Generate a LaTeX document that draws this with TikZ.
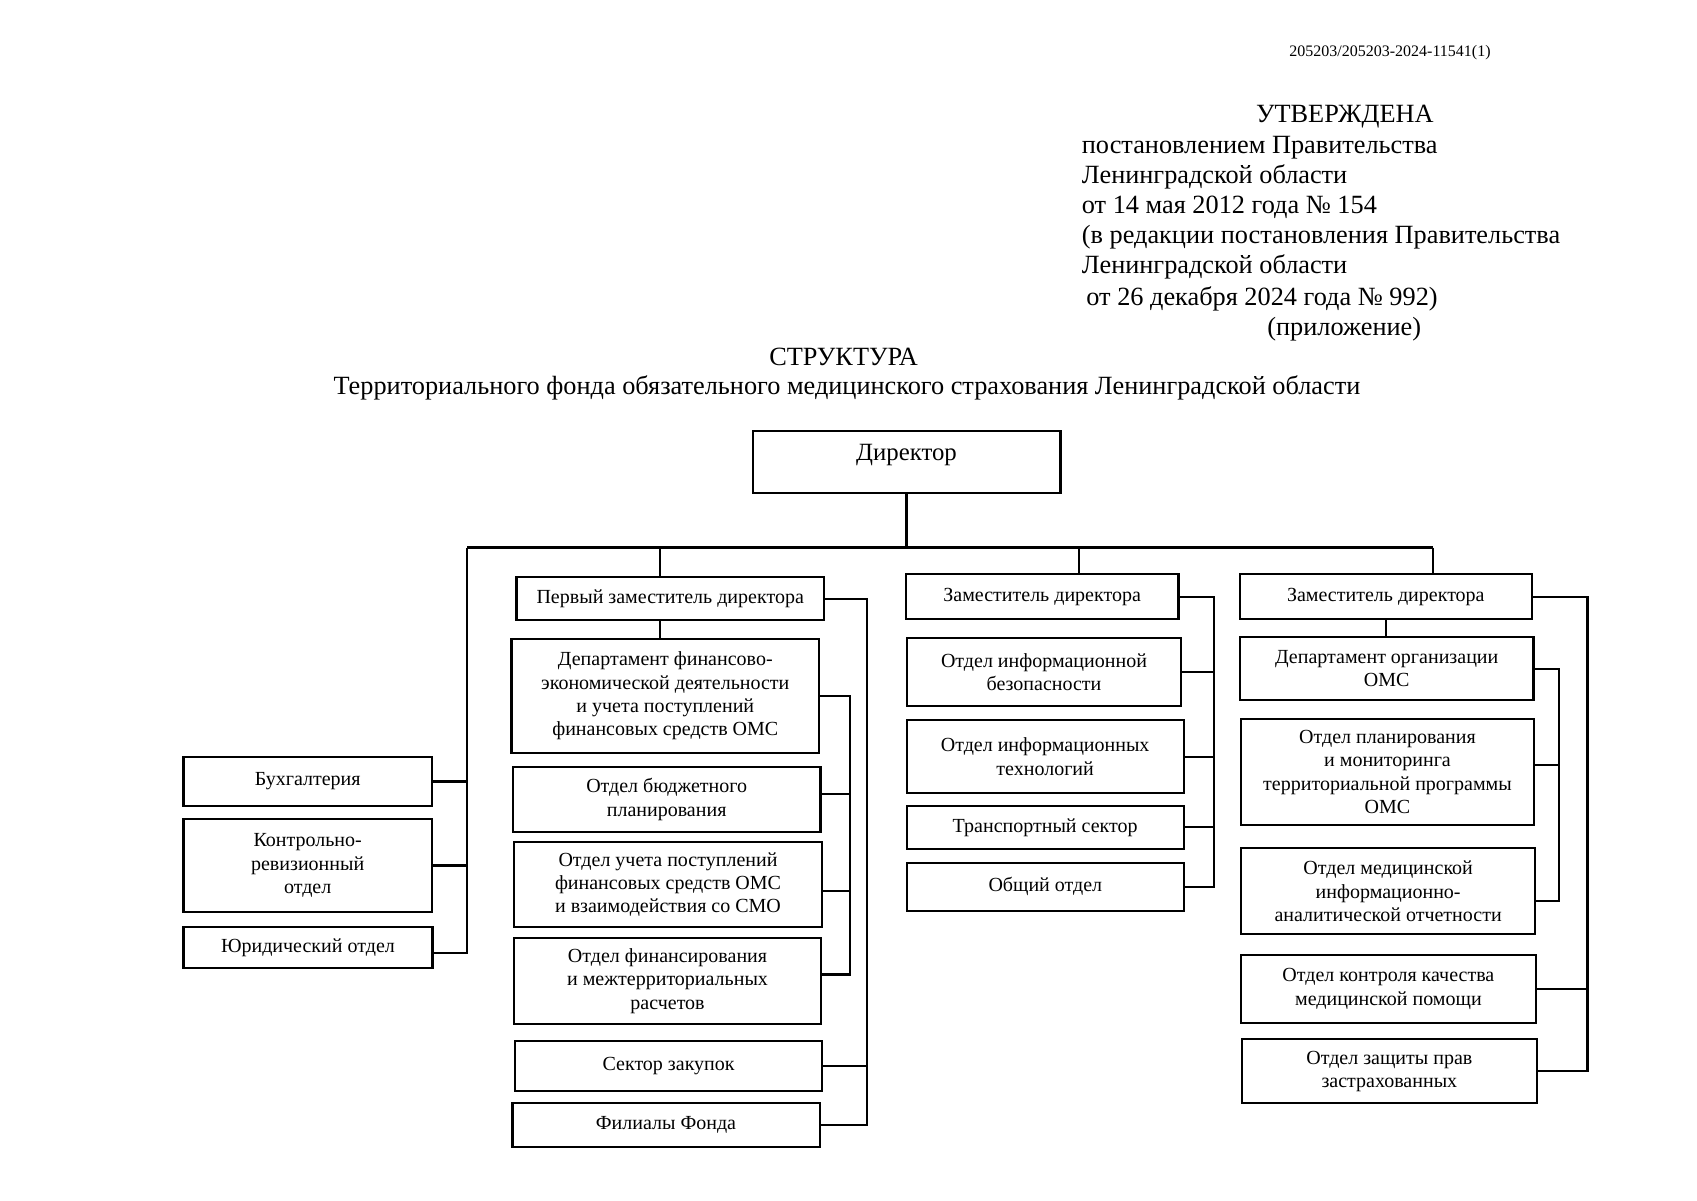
\documentclass[tikz,border=0pt]{standalone}
\usepackage{fontspec}
\setmainfont{Liberation Serif}
\begin{document}
\begin{tikzpicture}[x=0.5pt,y=-0.5pt,
  box/.style={draw, line width=1.1pt, inner sep=0pt, align=center, font=\fontsize{10}{11.65}\selectfont},
  bx/.style 2 args={minimum width=#1*0.5pt, minimum height=#2*0.5pt},
  con/.style={line width=1.1pt},
  hdr/.style={inner sep=0pt, anchor=base west, font=\fontsize{13.15}{15}\selectfont},
  ttl/.style={inner sep=0pt, anchor=base, font=\fontsize{13.15}{15}\selectfont}]
\fill[white] (0,0) rectangle (1697,1200);
\useasboundingbox (0,0) rectangle (1697,1200);
% header
\node[inner sep=0pt, anchor=base west, font=\fontsize{8}{9}\selectfont] (h0) at (1289,56) {205203/205203-2024-11541(1)};
\node[hdr] (h1) at (1255.6,122.7) {УТВЕРЖДЕНА};
\node[hdr] (h2) at (1081.5,153.3) {постановлением Правительства};
\node[hdr] (h3) at (1081.5,183.3) {Ленинградской области};
\node[hdr] (h4) at (1081.5,213.3) {от 14 мая 2012 года № 154};
\node[hdr] (h5) at (1081.5,243.3) {(в редакции постановления Правительства};
\node[hdr] (h6) at (1081.5,273.3) {Ленинградской области};
\node[hdr] (h7) at (1086,305) {от 26 декабря 2024 года № 992)};
\node[hdr] (h8) at (1267,335.5) {(приложение)};
\node[ttl] (t1) at (843.6,365) {СТРУКТУРА};
\node[ttl] (t2) at (847,394.5) {Территориального фонда обязательного медицинского страхования Ленинградской области};
% boxes
\node[box, bx={307.9}{62.6}, font=\fontsize{12.4}{14}\selectfont, text height=8.5pt, text depth=10pt] (dir) at (906.55,462) {Директор};
\node[box, bx={307.6}{42.7}] (fd) at (670.2,598.65) {Первый заместитель директора};
\node[box, bx={272.7}{45.3}] (d2) at (1042.15,596.65) {Заместитель директора};
\node[box, bx={291.6}{45.3}] (d3) at (1385.8,596.65) {Заместитель директора};
\node[box, bx={248.6}{48.4}] (buh) at (307.7,781.5) {Бухгалтерия};
\node[box, bx={248.6}{93.6}] (kr) at (307.7,865.5) {Контрольно-\\ревизионный\\отдел};
\node[box, bx={249.1}{41}] (jur) at (307.95,947.5) {Юридический отдел};
\node[box, bx={307.6}{114.6}] (fe) at (665.3,696) {Департамент финансово-\\экономической деятельности\\и учета поступлений\\финансовых средств ОМС};
\node[box, bx={307.5}{64.4}] (bud) at (666.65,799.5) {Отдел бюджетного\\планирования};
\node[box, bx={308.4}{84.7}] (uch) at (668,884.65) {Отдел учета поступлений\\финансовых средств ОМС\\и взаимодействия со СМО};
\node[box, bx={307.5}{86.6}] (fin) at (667.55,981) {Отдел финансирования\\и межтерриториальных\\расчетов};
\node[box, bx={307.2}{50}] (zak) at (668.6,1065.7) {Сектор закупок};
\node[box, bx={307.2}{44}] (fil) at (666,1124.7) {Филиалы Фонда};
\node[box, bx={274.6}{67.4}] (is) at (1044,672) {Отдел информационной\\безопасности};
\node[box, bx={276.9}{73.3}] (it) at (1045.15,756.65) {Отдел информационных\\технологий};
\node[box, bx={276.9}{43.3}] (tr) at (1045.15,827.35) {Транспортный сектор};
\node[box, bx={277.3}{48.3}] (ob) at (1045.35,886.85) {Общий отдел};
\node[box, bx={293.4}{62.7}] (org) at (1386.7,668.65) {Департамент организации\\ОМС};
\node[box, bx={293}{106}] (pl) at (1387.5,772) {Отдел планирования\\и мониторинга\\территориальной программы\\ОМС};
\node[box, bx={294.3}{86}] (med) at (1388.15,891.3) {Отдел медицинской\\информационно-\\аналитической отчетности};
\node[box, bx={294.8}{67.7}] (kk) at (1388.4,988.85) {Отдел контроля качества\\медицинской помощи};
\node[box, bx={294.7}{64}] (zp) at (1389.35,1071.3) {Отдел защиты прав\\застрахованных};
% junction coordinates
\coordinate (busL) at (467,547.5);
\coordinate (busR) at (1433,547.5);
\coordinate (b1) at (660,547.5);
\coordinate (b2) at (1079,547.5);
\coordinate (r1) at (867,600);
\coordinate (i1) at (850,700);
\coordinate (r2) at (1214,600);
\coordinate (r3) at (1587.5,600);
\coordinate (i3) at (1559,700);
\coordinate (budE) at ([yshift=2.75pt]bud.east);
\coordinate (uchE) at ([yshift=-3.15pt]uch.east);
\coordinate (finE) at ([yshift=3.3pt]fin.east);
\coordinate (jurE) at ([yshift=-2.9pt]jur.east);
\coordinate (plE) at ([yshift=3.5pt]pl.east);
\coordinate (medE) at ([yshift=-4.8pt]med.east);
% connectors
\draw[con] (dir.south) -- (dir.south |- busL);
\draw[con] (busL) -- (busR);
\draw[con] (busL) |- (jurE);
\draw[con] (buh.east) -- (buh.east -| busL);
\draw[con] (kr.east) -- (kr.east -| busL);
\draw[con] (b1) -- (b1 |- fd.north);
\draw[con] (b1 |- fd.south) -- (b1 |- fe.north);
\draw[con] (b2) -- (b2 |- d2.north);
\draw[con] (busR) -- (busR |- d3.north);
\draw[con] (d3.south) -- (d3.south |- org.north);
\draw[con] (fd.east) -| (r1 |- fil.east) -- (fil.east);
\draw[con] (zak.east) -- (zak.east -| r1);
\draw[con] (fe.east) -| (i1 |- finE) -- (finE);
\draw[con] (budE) -- (budE -| i1);
\draw[con] (uchE) -- (uchE -| i1);
\draw[con] (d2.east) -| (r2 |- ob.east) -- (ob.east);
\draw[con] (is.east) -- (is.east -| r2);
\draw[con] (it.east) -- (it.east -| r2);
\draw[con] (tr.east) -- (tr.east -| r2);
\draw[con] (d3.east) -| (r3 |- zp.east) -- (zp.east);
\draw[con] (kk.east) -- (kk.east -| r3);
\draw[con] (org.east) -| (i3 |- medE) -- (medE);
\draw[con] (plE) -- (plE -| i3);
\end{tikzpicture}
\end{document}
